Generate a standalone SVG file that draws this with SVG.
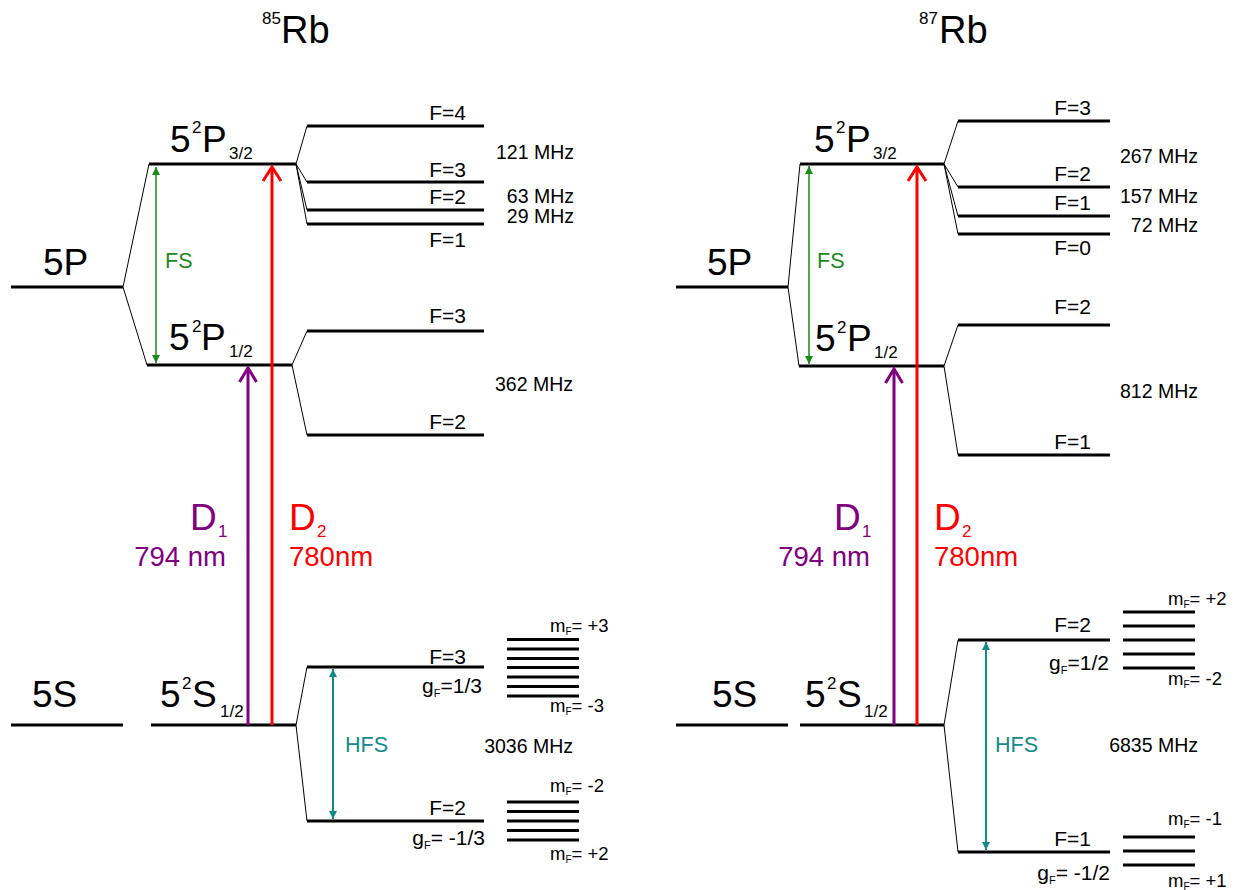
<svg xmlns="http://www.w3.org/2000/svg" width="1235" height="890" viewBox="0 0 1235 890">
<defs>
<style>
text{font-family:"Liberation Sans",Arial,sans-serif;fill:#000}
.lvl{stroke:#000;stroke-width:3;fill:none}
.sp{stroke:#000;stroke-width:1;fill:none}
.mfl{stroke:#000;stroke-width:3;fill:none}
.big{font-size:37px}
.ttl{font-size:38px}
.sup{font-size:17px}
.lab{font-size:19.5px}
.fl{font-size:21px}
.mf{font-size:18.5px}
.fs{stroke:#1a8a1a;stroke-width:1.5;fill:none}
.hfs{stroke:#138a8a;stroke-width:2;fill:none}
.red{stroke:#ff0000;stroke-width:3;fill:none}
.pur{stroke:#800080;stroke-width:3;fill:none}
.tred{fill:#ff0000}
.tpur{fill:#800080}
.tfs{fill:#1a8a1a;font-size:21.5px}
.thfs{fill:#138a8a;font-size:21.5px}
</style>
<marker id="ag" viewBox="0 0 10 10" refX="10" refY="5" markerWidth="8" markerHeight="8" markerUnits="userSpaceOnUse" orient="auto-start-reverse"><path d="M0,0 L10,5 L0,10 z" fill="#1a8a1a"/></marker>
<marker id="at" viewBox="0 0 10 10" refX="10" refY="5" markerWidth="8" markerHeight="8" markerUnits="userSpaceOnUse" orient="auto-start-reverse"><path d="M0,0 L10,5 L0,10 z" fill="#138a8a"/></marker>
</defs>
<rect width="1235" height="890" fill="#fff"/>

<!-- ===== 85Rb ===== -->
<g id="title85"><text x="262" y="24" class="sup">85</text><text x="281" y="43" class="ttl">Rb</text></g>

<g id="rb85-5P"><line class="lvl" x1="11" y1="287" x2="123" y2="287"/><text x="43" y="275" class="big">5P</text></g>
<g id="rb85-P32"><line class="lvl" x1="149" y1="164" x2="296" y2="164"/>
<text class="big" x="170" y="152">5</text><text class="sup" x="192" y="133">2</text><text class="big" x="202" y="152">P</text><text class="sup" x="229" y="159">3/2</text></g>
<g id="rb85-P12"><line class="lvl" x1="147" y1="365" x2="292" y2="365"/>
<text class="big" x="169" y="350">5</text><text class="sup" x="192" y="332">2</text><text class="big" x="201" y="350">P</text><text class="sup" x="229" y="357">1/2</text></g>
<g id="rb85-5S"><line class="lvl" x1="11" y1="725" x2="123" y2="725"/><text x="32" y="707" class="big">5S</text></g>
<g id="rb85-S12"><line class="lvl" x1="151" y1="725" x2="296" y2="725"/>
<text class="big" x="160" y="707">5</text><text class="sup" x="182" y="689">2</text><text class="big" x="192" y="707">S</text><text class="sup" x="220" y="717">1/2</text></g>

<g id="rb85-P32-hf">
<line class="lvl" x1="307" y1="126" x2="484" y2="126"/><text class="fl" x="466" y="120" text-anchor="end">F=4</text>
<line class="lvl" x1="307" y1="182" x2="484" y2="182"/><text class="fl" x="466" y="177" text-anchor="end">F=3</text>
<line class="lvl" x1="307" y1="210" x2="484" y2="210"/><text class="fl" x="466" y="204" text-anchor="end">F=2</text>
<line class="lvl" x1="307" y1="224" x2="484" y2="224"/><text class="fl" x="466" y="247" text-anchor="end">F=1</text>
<text class="lab" x="574" y="159" text-anchor="end">121 MHz</text>
<text class="lab" x="574" y="203" text-anchor="end">63 MHz</text>
<text class="lab" x="574" y="223" text-anchor="end">29 MHz</text>
</g>
<g id="rb85-P12-hf">
<line class="lvl" x1="307" y1="331" x2="484" y2="331"/><text class="fl" x="466" y="323" text-anchor="end">F=3</text>
<line class="lvl" x1="307" y1="435" x2="484" y2="435"/><text class="fl" x="466" y="429" text-anchor="end">F=2</text>
<text class="lab" x="573" y="391" text-anchor="end">362 MHz</text>
</g>
<g id="rb85-S12-hf">
<line class="lvl" x1="307" y1="667" x2="484" y2="667"/><text class="fl" x="466" y="664" text-anchor="end">F=3</text>
<text class="fl" x="482" y="693" text-anchor="end">g<tspan font-size="11" dy="4">F</tspan><tspan dy="-4">=1/3</tspan></text>
<line class="lvl" x1="307" y1="821" x2="484" y2="821"/><text class="fl" x="466" y="815" text-anchor="end">F=2</text>
<text class="fl" x="485" y="845" text-anchor="end">g<tspan font-size="11" dy="4">F</tspan><tspan dy="-4">= -1/3</tspan></text>
<text class="lab" x="573" y="753" text-anchor="end">3036 MHz</text>
</g>
<g id="rb85-mF3">
<path class="mfl" d="M507,639.5H579M507,649H579M507,658.5H579M507,667.5H579M507,677H579M507,686.5H579M507,696H579"/>
<text class="mf" x="550" y="632">m<tspan font-size="10" dy="3">F</tspan><tspan dy="-3">= +3</tspan></text>
<text class="mf" x="550" y="712">m<tspan font-size="10" dy="3">F</tspan><tspan dy="-3">= -3</tspan></text>
</g>
<g id="rb85-mF2">
<path class="mfl" d="M507,802H579M507,811.5H579M507,821H579M507,830.5H579M507,840H579"/>
<text class="mf" x="550" y="792">m<tspan font-size="10" dy="3">F</tspan><tspan dy="-3">= -2</tspan></text>
<text class="mf" x="550" y="860">m<tspan font-size="10" dy="3">F</tspan><tspan dy="-3">= +2</tspan></text>
</g>
<g id="rb85-labels">
<text class="big tpur" x="190" y="530">D</text><text class="sup tpur" x="218" y="537">1</text>
<text class="tpur" font-size="27.5" x="226" y="566" text-anchor="end">794 nm</text>
<text class="big tred" x="289" y="530">D</text><text class="sup tred" x="317" y="537">2</text>
<text class="tred" font-size="27.5" x="289" y="566">780nm</text>
<text class="tfs" x="165" y="268">FS</text>
<text class="thfs" x="345" y="752">HFS</text>
</g>

<!-- ===== 87Rb ===== -->
<g id="title87"><text x="919" y="24" class="sup">87</text><text x="939" y="43" class="ttl">Rb</text></g>

<g id="rb87-5P"><line class="lvl" x1="676" y1="287" x2="788" y2="287"/><text x="707" y="275" class="big">5P</text></g>
<g id="rb87-P32"><line class="lvl" x1="800" y1="164" x2="944" y2="164"/>
<text class="big" x="814" y="152">5</text><text class="sup" x="836" y="133">2</text><text class="big" x="846" y="152">P</text><text class="sup" x="873" y="159">3/2</text></g>
<g id="rb87-P12"><line class="lvl" x1="799" y1="366" x2="944" y2="366"/>
<text class="big" x="815" y="351">5</text><text class="sup" x="837" y="333">2</text><text class="big" x="847" y="351">P</text><text class="sup" x="874" y="358">1/2</text></g>
<g id="rb87-5S"><line class="lvl" x1="676" y1="725" x2="788" y2="725"/><text x="712" y="707" class="big">5S</text></g>
<g id="rb87-S12"><line class="lvl" x1="800" y1="725" x2="944" y2="725"/>
<text class="big" x="805" y="707">5</text><text class="sup" x="827" y="689">2</text><text class="big" x="837" y="707">S</text><text class="sup" x="864" y="717">1/2</text></g>

<g id="rb87-P32-hf">
<line class="lvl" x1="958" y1="121" x2="1110" y2="121"/><text class="fl" x="1091" y="115" text-anchor="end">F=3</text>
<line class="lvl" x1="958" y1="187" x2="1110" y2="187"/><text class="fl" x="1091" y="181" text-anchor="end">F=2</text>
<line class="lvl" x1="958" y1="216" x2="1110" y2="216"/><text class="fl" x="1091" y="210" text-anchor="end">F=1</text>
<line class="lvl" x1="958" y1="234" x2="1110" y2="234"/><text class="fl" x="1091" y="255" text-anchor="end">F=0</text>
<text class="lab" x="1198" y="163" text-anchor="end">267 MHz</text>
<text class="lab" x="1198" y="203" text-anchor="end">157 MHz</text>
<text class="lab" x="1198" y="232" text-anchor="end">72 MHz</text>
</g>
<g id="rb87-P12-hf">
<line class="lvl" x1="958" y1="325" x2="1110" y2="325"/><text class="fl" x="1091" y="314" text-anchor="end">F=2</text>
<line class="lvl" x1="958" y1="455" x2="1110" y2="455"/><text class="fl" x="1091" y="449" text-anchor="end">F=1</text>
<text class="lab" x="1198" y="398" text-anchor="end">812 MHz</text>
</g>
<g id="rb87-S12-hf">
<line class="lvl" x1="958" y1="640" x2="1110" y2="640"/><text class="fl" x="1091" y="632" text-anchor="end">F=2</text>
<text class="fl" x="1109" y="670" text-anchor="end">g<tspan font-size="11" dy="4">F</tspan><tspan dy="-4">=1/2</tspan></text>
<line class="lvl" x1="958" y1="852" x2="1110" y2="852"/><text class="fl" x="1091" y="846" text-anchor="end">F=1</text>
<text class="fl" x="1110" y="880" text-anchor="end">g<tspan font-size="11" dy="4">F</tspan><tspan dy="-4">= -1/2</tspan></text>
<text class="lab" x="1198" y="752" text-anchor="end">6835 MHz</text>
</g>
<g id="rb87-mF2">
<path class="mfl" d="M1123,612H1195M1123,626H1195M1123,640H1195M1123,654H1195M1123,668H1195"/>
<text class="mf" x="1168" y="605">m<tspan font-size="10" dy="3">F</tspan><tspan dy="-3">= +2</tspan></text>
<text class="mf" x="1168" y="685">m<tspan font-size="10" dy="3">F</tspan><tspan dy="-3">= -2</tspan></text>
</g>
<g id="rb87-mF1">
<path class="mfl" d="M1123,837H1195M1123,851H1195M1123,865H1195"/>
<text class="mf" x="1168" y="825">m<tspan font-size="10" dy="3">F</tspan><tspan dy="-3">= -1</tspan></text>
<text class="mf" x="1168" y="887">m<tspan font-size="10" dy="3">F</tspan><tspan dy="-3">= +1</tspan></text>
</g>
<g id="rb87-labels">
<text class="big tpur" x="834" y="530">D</text><text class="sup tpur" x="862" y="537">1</text>
<text class="tpur" font-size="27.5" x="870" y="566" text-anchor="end">794 nm</text>
<text class="big tred" x="934" y="530">D</text><text class="sup tred" x="962" y="537">2</text>
<text class="tred" font-size="27.5" x="934" y="566">780nm</text>
<text class="tfs" x="817" y="268">FS</text>
<text class="thfs" x="995" y="752">HFS</text>
</g>

<!-- ===== connectors ===== -->
<g id="connectors">
<path class="sp" d="M123,287L149,164M123,287L147,365"/>
<path class="sp" d="M296,164L307,126M296,164L307,182M296,164L307,210M296,164L307,224"/>
<path class="sp" d="M292,365L307,331M292,365L307,435"/>
<path class="sp" d="M296,725L307,667M296,725L307,821"/>
<line class="fs" x1="156" y1="167" x2="156" y2="363" marker-start="url(#ag)" marker-end="url(#ag)"/>
<line class="hfs" x1="333" y1="669" x2="333" y2="819" marker-start="url(#at)" marker-end="url(#at)"/>
<line class="pur" x1="248" y1="725" x2="248" y2="368"/>
<polyline class="pur" points="239.5,382 248,368 256.5,382"/>
<line class="red" x1="272" y1="725" x2="272" y2="167"/>
<polyline class="red" points="263,181 272,167 281,181"/>
<path class="sp" d="M788,287L800,164M788,287L799,366"/>
<path class="sp" d="M944,164L958,121M944,164L958,187M944,164L958,216M944,164L958,234"/>
<path class="sp" d="M944,366L958,325M944,366L958,455"/>
<path class="sp" d="M944,725L958,640M944,725L958,852"/>
<line class="fs" x1="809" y1="166" x2="809" y2="364" marker-start="url(#ag)" marker-end="url(#ag)"/>
<line class="hfs" x1="986" y1="642" x2="986" y2="850" marker-start="url(#at)" marker-end="url(#at)"/>
<line class="pur" x1="894" y1="725" x2="894" y2="369"/>
<polyline class="pur" points="885.5,383 894,369 902.5,383"/>
<line class="red" x1="917" y1="725" x2="917" y2="167"/>
<polyline class="red" points="908,181 917,167 926,181"/>
</g>
</svg>
